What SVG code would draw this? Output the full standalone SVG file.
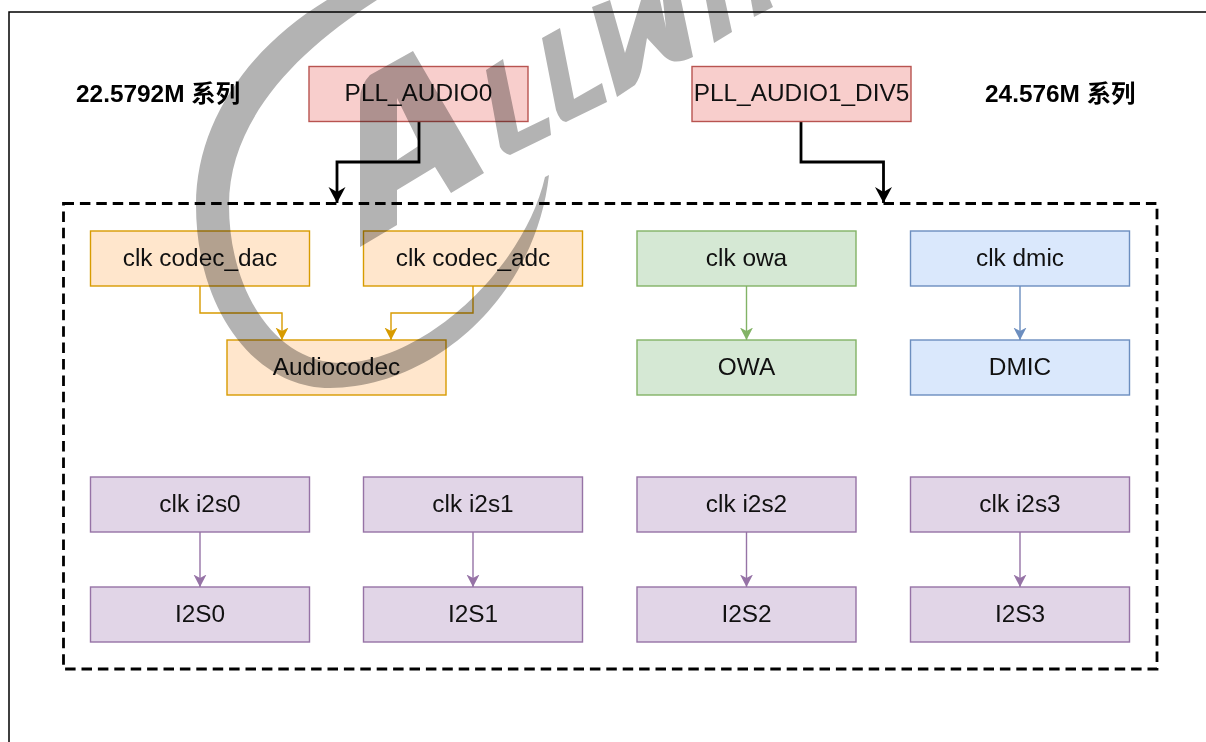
<svg xmlns="http://www.w3.org/2000/svg" width="1206" height="742" viewBox="0 0 1206 742">
<style>
text{font-family:"Liberation Sans","Noto Sans CJK SC",sans-serif;font-size:24.4px;fill:#111;text-anchor:middle}
.t{font-weight:bold;text-anchor:start;fill:#000}
rect{stroke-width:1.4}
.red rect{fill:#f8cecc;stroke:#b85450}
.org rect{fill:#ffe6cc;stroke:#d79b00}
.grn rect{fill:#d5e8d4;stroke:#82b366}
.blu rect{fill:#dae8fc;stroke:#6c8ebf}
.pur rect{fill:#e1d5e7;stroke:#9673a6}
#connectors path{fill:none;stroke-width:1.4}
#connectors .k{stroke:#000;stroke-width:2.8}
#connectors .o{stroke:#d79b00}
#connectors .g{stroke:#82b366}
#connectors .b{stroke:#6c8ebf}
#connectors .p{stroke:#9673a6}
#watermark{mix-blend-mode:multiply;fill:#b3b3b3;fill-rule:evenodd}
</style>
<defs>
<marker id="ak" markerUnits="userSpaceOnUse" markerWidth="18" markerHeight="18" refX="16" refY="8.500" orient="auto"><path d="M0,0L16,8.500L0,17L5,8.500Z" fill="#000"/></marker>
<marker id="ao" markerUnits="userSpaceOnUse" markerWidth="14" markerHeight="14" refX="12.500" refY="6.500" orient="auto"><path d="M0,0L12.500,6.500L0,13L3.500,6.500Z" fill="#d79b00"/></marker>
<marker id="ag" markerUnits="userSpaceOnUse" markerWidth="14" markerHeight="14" refX="12.500" refY="6.500" orient="auto"><path d="M0,0L12.500,6.500L0,13L3.500,6.500Z" fill="#82b366"/></marker>
<marker id="ab" markerUnits="userSpaceOnUse" markerWidth="14" markerHeight="14" refX="12.500" refY="6.500" orient="auto"><path d="M0,0L12.500,6.500L0,13L3.500,6.500Z" fill="#6c8ebf"/></marker>
<marker id="ap" markerUnits="userSpaceOnUse" markerWidth="14" markerHeight="14" refX="12.500" refY="6.500" orient="auto"><path d="M0,0L12.500,6.500L0,13L3.500,6.500Z" fill="#9673a6"/></marker>
</defs>
<rect width="1206" height="742" fill="#fff" style="stroke:none"/>
<rect id="frame" x="9" y="12" width="1300" height="800" fill="none" stroke="#000" style="stroke-width:1.5"/>
<rect id="group" x="63.500" y="203.500" width="1093.500" height="465.500" fill="none" stroke="#000" stroke-dasharray="10.500 5.900" style="stroke-width:2.8"/>
<g id="connectors">
<path class="k" d="M419,121V162H337V203" marker-end="url(#ak)"/>
<path class="k" d="M801,121V162H883.500V203" marker-end="url(#ak)"/>
<path class="o" d="M200,286V313H282V340" marker-end="url(#ao)"/>
<path class="o" d="M473,286V313H391V340" marker-end="url(#ao)"/>
<path class="g" d="M746.500,286V340" marker-end="url(#ag)"/>
<path class="b" d="M1020,286V340" marker-end="url(#ab)"/>
<path class="p" d="M200,532V587" marker-end="url(#ap)"/>
<path class="p" d="M473,532V587" marker-end="url(#ap)"/>
<path class="p" d="M746.500,532V587" marker-end="url(#ap)"/>
<path class="p" d="M1020,532V587" marker-end="url(#ap)"/>
</g>
<g id="label-22"><text class="t" x="76" y="101.500">22.5792M 系列</text></g>
<g id="label-24"><text class="t" x="985" y="101.500">24.576M 系列</text></g>
<g id="pll0" class="red"><rect x="309" y="66.500" width="219" height="55"/><text x="418.500" y="101">PLL_AUDIO0</text></g>
<g id="pll1" class="red"><rect x="692" y="66.500" width="219" height="55"/><text x="801.500" y="101">PLL_AUDIO1_DIV5</text></g>
<g id="clk-dac" class="org"><rect x="90.500" y="231" width="219" height="55"/><text x="200" y="266">clk codec_dac</text></g>
<g id="clk-adc" class="org"><rect x="363.500" y="231" width="219" height="55"/><text x="473" y="266">clk codec_adc</text></g>
<g id="clk-owa" class="grn"><rect x="637" y="231" width="219" height="55"/><text x="746.500" y="266">clk owa</text></g>
<g id="clk-dmic" class="blu"><rect x="910.500" y="231" width="219" height="55"/><text x="1020" y="266">clk dmic</text></g>
<g id="audiocodec" class="org"><rect x="227" y="340" width="219" height="55"/><text x="336.500" y="375">Audiocodec</text></g>
<g id="owa" class="grn"><rect x="637" y="340" width="219" height="55"/><text x="746.500" y="375">OWA</text></g>
<g id="dmic" class="blu"><rect x="910.500" y="340" width="219" height="55"/><text x="1020" y="375">DMIC</text></g>
<g id="clk-i2s0" class="pur"><rect x="90.500" y="477" width="219" height="55"/><text x="200" y="512">clk i2s0</text></g>
<g id="clk-i2s1" class="pur"><rect x="363.500" y="477" width="219" height="55"/><text x="473" y="512">clk i2s1</text></g>
<g id="clk-i2s2" class="pur"><rect x="637" y="477" width="219" height="55"/><text x="746.500" y="512">clk i2s2</text></g>
<g id="clk-i2s3" class="pur"><rect x="910.500" y="477" width="219" height="55"/><text x="1020" y="512">clk i2s3</text></g>
<g id="i2s0" class="pur"><rect x="90.500" y="587" width="219" height="55"/><text x="200" y="622">I2S0</text></g>
<g id="i2s1" class="pur"><rect x="363.500" y="587" width="219" height="55"/><text x="473" y="622">I2S1</text></g>
<g id="i2s2" class="pur"><rect x="637" y="587" width="219" height="55"/><text x="746.500" y="622">I2S2</text></g>
<g id="i2s3" class="pur"><rect x="910.500" y="587" width="219" height="55"/><text x="1020" y="622">I2S3</text></g>
<g id="watermark">
<path d="M327,0C245,50 196,125 196,205C196,310 255,388 330,388C430,388 535,300 549,175L545,177C525,265 430,358 345,363C275,365 229,290 229,205C229,125 290,55 377,0Z"/>
<path d="M360,247V100Q360,85 370,75L413,51L484,173L451,193L435,167L397,190V225ZM397,98V160L420,145Z"/>
<path d="M486,70L503,59L518,132L549,117L551,135L510,155Q503,153 500,147Z"/>
<path d="M542,38L560,28L574,99L602,83L607,102L566,122Q560,122 556,110Z"/>
<path d="M592,7L610,0L625,53L641,0H660L666,28L663,0H681L693,57Q680,63 672,61Q667,60 660,52L647,38L642,67Q640,78 635,85L617,97Z"/>
<path d="M706,0H725L732,32L714,43Z"/>
<path d="M751,0H770L773,7L754,17Z"/>
</g>
</svg>
